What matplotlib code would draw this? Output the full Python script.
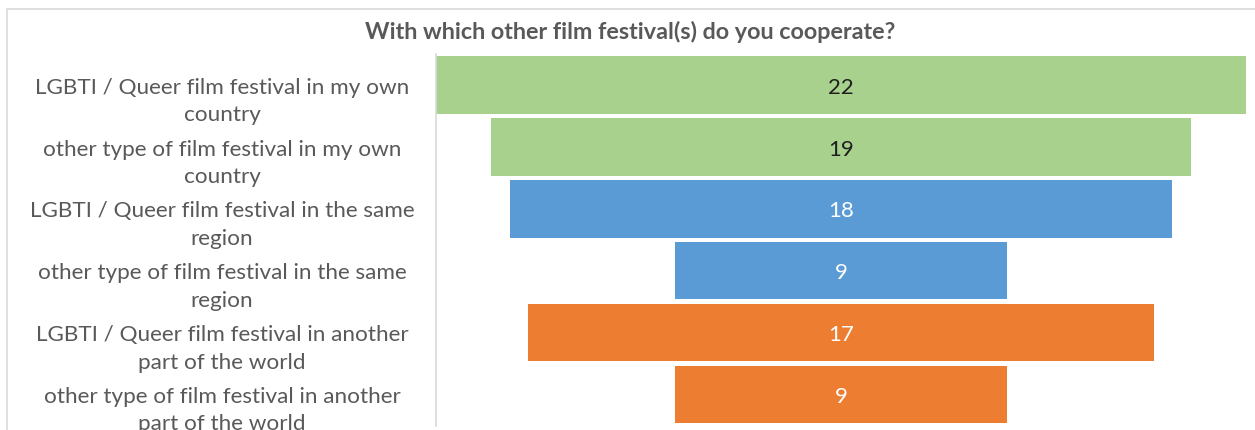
import matplotlib
matplotlib.use("Agg")
import matplotlib.pyplot as plt
from matplotlib.patches import Rectangle

categories = [
    "LGBTI / Queer film festival in my own\ncountry",
    "other type of film festival in my own\ncountry",
    "LGBTI / Queer film festival in the same\nregion",
    "other type of film festival in the same\nregion",
    "LGBTI / Queer film festival in another\npart of the world",
    "other type of film festival in another\npart of the world",
]
values = [22, 19, 18, 9, 17, 9]
bar_colors = ["#A9D18E", "#A9D18E", "#5B9BD5", "#5B9BD5", "#ED7D31", "#ED7D31"]
value_text_colors = ["#1F1F1F", "#1F1F1F", "white", "white", "white", "white"]
title = "With which other film festival(s) do you cooperate?"

plt.rcParams["font.family"] = ["Lato", "DejaVu Sans"]

W, H = 1255, 431
fig = plt.figure(figsize=(W / 100, H / 100), dpi=100)
fig.patch.set_facecolor("white")

# outer chart frame
fig.add_artist(Rectangle((7 / W, -0.1), 1.2, 1 - 9.5 / H + 0.1, transform=fig.transFigure,
                         fill=False, edgecolor="#D9D9D9", linewidth=1.2))

ax = fig.add_axes([436 / W, 1 - 426.5 / H, (1246 - 436) / W, (426.5 - 55) / H])
n = len(values)
vmax = max(values)
ax.barh(range(n), values, left=[-v / 2 for v in values], height=0.93,
        color=bar_colors, edgecolor="none")
ax.set_xlim(-vmax / 2, vmax / 2)
ax.set_ylim(n - 0.5, -0.5)

for i, v in enumerate(values):
    ax.annotate(str(v), xy=(0, i), xytext=(0, -1.2), textcoords="offset points",
                ha="center", va="center", fontsize=16,
                color=value_text_colors[i])

ax.set_yticks(range(n))
ax.set_yticklabels([])
for i, c in enumerate(categories):
    ax.annotate(c, xy=(0, i), xycoords=("axes fraction", "data"),
                xytext=(-154, -11), textcoords="offset points",
                ha="center", va="center", fontsize=16.2, color="#595959",
                linespacing=1.45, annotation_clip=False)

ax.set_xticks([])
ax.tick_params(left=False)
for s in ["top", "right", "bottom"]:
    ax.spines[s].set_visible(False)
ax.spines["left"].set_color("#D9D9D9")
ax.spines["left"].set_linewidth(1.2)

fig.text(0.5 + 3 / W, 1 - 32 / H, title, ha="center", va="center",
         fontsize=16.8, fontweight="bold", color="#595959")

fig.savefig("out.png", dpi=100, facecolor="white")
